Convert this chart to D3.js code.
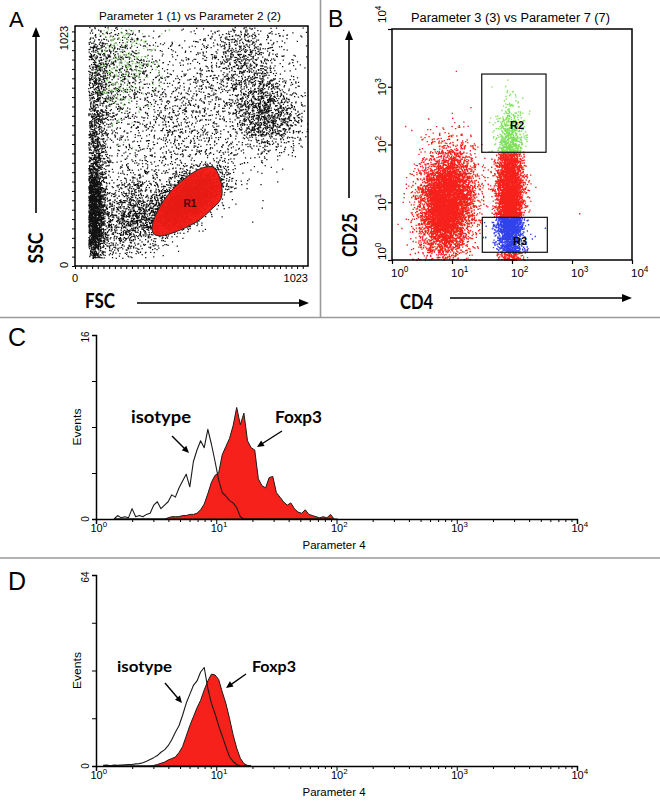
<!DOCTYPE html>
<html><head><meta charset="utf-8">
<script src="https://cdn.jsdelivr.net/npm/d3@7"></script>
<style>body{margin:0;background:#fff}svg{display:block}</style>
</head><body>
<svg id="fig" width="660" height="808"></svg>
<script>
// ================= DATA =================
// Panel A: FSC vs SSC (linear channels 0-1023), event populations
const aPopFSC   = [80, 88, 235, 190, 215, 845, 740, 470, 455, 505];
const aPopSSC   = [230, 640, 210, 830, 860, 660, 900, 600, 275, 285];
const aPopSdFSC = [25, 32, 75, 95, 75, 75, 85, 220, 100, 68];
const aPopSdSSC = [120, 190, 90, 130, 110, 85, 95, 220, 75, 58];
const aPopRho   = [0, 0, 0.3, 0, 0, -0.2, 0, 0.45, 0.7, 0.6];
const aPopCount = [2600, 1200, 1000, 800, 320, 1250, 650, 1900, 1500, 2000];
const aPopGreen = [false, false, false, false, true, false, false, false, false, false];
const aFscMin = 58, aSscMin = 35;
const aTicks = ["0", "1023"];
// R1 gate polygon (FSC, SSC)
const r1GateFSC = [338, 365, 420, 483, 530, 565, 606, 637, 645, 630, 606, 549, 461, 373, 345];
const r1GateSSC = [166, 240, 318, 374, 405, 420, 422, 372, 300, 270, 248, 198, 153, 128, 138];

// Panel B: CD4 (x) vs CD25 (y), log decades
const bPopLogCD4  = [0.9, 1.955, 1.97, 1.3];
const bPopLogCD25 = [1.0, 1.0, 2.15, 1.4];
const bPopSdCD4   = [0.22, 0.11, 0.12, 0.55];
const bPopSdCD25  = [0.45, 0.6, 0.3, 0.6];
const bPopRho     = [0.1, 0, 0, 0];
const bPopCount   = [6500, 5500, 330, 90];
const bGateNames  = ["R2", "R3"];
const bGateCD4Lo  = [31.3, 32];
const bGateCD4Hi  = [369, 388];
const bGateCD25Lo = [73.3, 1.36];
const bGateCD25Hi = [1660, 5.48];
const decadeExps  = [0, 1, 2, 3, 4];

// Panel C histogram (Parameter 4, Events 0-16), bins every 0.03 decade from 10^0.15
const cIsotype = [0,0.3,0.1,0.2,0.1,0.9,0.2,0.3,0.2,0.4,0.5,1.2,1.5,0.9,1.2,1.5,2.1,1.9,2.7,3.3,3.9,2.8,5.0,6.0,6.8,6.2,7.8,6.5,5.0,3.4,2.3,2.0,1.6,1.4,1.0,0.2,0,
  0,0,0,0,0,0,0,0,0,0,0,0,0,0,0,0,0,0,0,0,0,0,0,0,0,0];
const cFoxp3 = [0,0,0,0,0,0,0,0,0,0,0,0,0,0,
  0,0.1,0.2,0.2,0.2,0.3,0.3,0.4,0.4,0.5,0.8,1.3,2.2,3.2,3.8,4.0,5.6,6.3,7.0,8.1,9.7,8.2,9.2,6.8,6.2,6.0,3.5,2.9,2.7,3.6,3.7,2.3,1.9,1.5,1.2,1.4,0.9,0.6,0.5,0.8,0.4,0.3,0.2,0.1,0.2,0.1,0.4,0];
const cYTicks = [0, 4, 8, 12, 16];

// Panel D histogram (Parameter 4, Events 0-64), bins every 0.03 decade from 10^0.06
const dIsotype = [0.2,0.3,0.1,0.3,0.2,0.3,0.4,0.5,0.5,0.7,0.8,1.1,1.6,2.2,2.8,3.5,4.6,5.4,6.8,8.8,11.3,13.5,17.0,21.0,24.0,27.0,28.5,31.5,33.0,26.0,21.0,17.5,13.5,10.0,6.5,3.1,1.5,0.5,0,0,0,0];
const dFoxp3 = [0,0,0,0,0,0,0,0,0,0,0,0,0,0,
  0.2,0.5,0.9,1.3,2.0,2.5,3.0,4.5,6.5,10.0,13.5,16.5,19.5,22.0,25.5,28.5,30.8,30.5,29.0,24.8,21.0,16.0,10.5,6.0,2.6,0.8,0.2,0];
const dYTicks = [0, 16, 32, 48, 64];

// ================= HELPERS =================
const svg = d3.select("#fig");
const ARIAL = "'Liberation Sans', Arial, sans-serif";
const CAL = "Lato, 'Open Sans', sans-serif";
const RED = "#f5211a", GREEN = "#7fe05c", BLUE = "#3142ea";

function mulberry32(a){return function(){a|=0;a=a+0x6D2B79F5|0;let t=Math.imul(a^a>>>15,1|a);t=t+Math.imul(t^t>>>7,61|t)^t;return((t^t>>>14)>>>0)/4294967296;};}
function gauss(r){let u=0;while(u===0)u=r();const v=r();return Math.sqrt(-2*Math.log(u))*Math.cos(2*Math.PI*v);}
function population(cx,cy,sx,sy,rho,n,r){const out=[];const k=Math.sqrt(1-rho*rho);
  for(let i=0;i<n;i++){const z1=gauss(r),z2=gauss(r);out.push([cx+sx*z1, cy+sy*(rho*z1+k*z2)]);}return out;}
function dotsPath(pts,fx,fy,s){return pts.map(p=>`M${fx(p[0]).toFixed(1)},${fy(p[1]).toFixed(1)}h${s}v${s}h${-s}z`).join("");}

function txt(g,x,y,s,o={}){
  const t=g.append("text").attr("x",x).attr("y",y).text(s)
   .attr("font-family",o.family||ARIAL).attr("font-size",o.size||11)
   .attr("font-weight",o.weight||"normal").attr("text-anchor",o.anchor||"start").attr("fill","#000");
  if(o.len){t.attr("textLength",o.len).attr("lengthAdjust","spacingAndGlyphs");}
  return t;
}
function rtxt(g,x,y,s,o={}){
  const t=g.append("text").attr("transform",`translate(${x},${y}) rotate(-90)`).text(s)
   .attr("font-family",o.family||ARIAL).attr("font-size",o.size||11)
   .attr("font-weight",o.weight||"normal").attr("text-anchor",o.anchor||"middle").attr("fill","#000");
  if(o.len){t.attr("textLength",o.len).attr("lengthAdjust","spacingAndGlyphs");}
  return t;
}
function powLabel(t,e,size){
  t.append("tspan").text("10");
  t.append("tspan").attr("dy",-size*0.42).attr("font-size",size*0.72).text(e);
}
function arrow(g,x1,y1,x2,y2,len,hw,sw){
  const dx=x2-x1,dy=y2-y1,d=Math.hypot(dx,dy),ux=dx/d,uy=dy/d;
  const bx=x2-ux*len,by=y2-uy*len;
  g.append("line").attr("x1",x1).attr("y1",y1).attr("x2",bx+ux).attr("y2",by+uy).attr("stroke","#000").attr("stroke-width",sw);
  g.append("path").attr("d",`M${x2},${y2}L${bx-uy*hw},${by+ux*hw}L${bx+uy*hw},${by-ux*hw}Z`).attr("fill","#000");
}

// ================= DIVIDERS =================
svg.append("line").attr("x1",320.5).attr("x2",320.5).attr("y1",0).attr("y2",317).attr("stroke","#9a9a9a").attr("stroke-width",1.6);
svg.append("line").attr("x1",0).attr("x2",660).attr("y1",317.5).attr("y2",317.5).attr("stroke","#9a9a9a").attr("stroke-width",1.6);
svg.append("line").attr("x1",0).attr("x2",660).attr("y1",558).attr("y2",558).attr("stroke","#9a9a9a").attr("stroke-width",1.6);

// ================= PANEL A =================
{
  const g = svg.append("g");
  const x = d3.scaleLinear().domain([0,1023]).range([75,308]);
  const y = d3.scaleLinear().domain([0,1023]).range([266,26]);
  const rng = mulberry32(12345);
  const gate = r1GateFSC.map((v,i)=>[v, r1GateSSC[i]]);
  const black=[], green=[], red=[];
  aPopFSC.forEach((cx,i)=>{
    population(cx,aPopSSC[i],aPopSdFSC[i],aPopSdSSC[i],aPopRho[i],aPopCount[i],rng).forEach(p=>{
      if(p[0]<aFscMin||p[0]>1020||p[1]<aSscMin||p[1]>1020) return;
      if(d3.polygonContains(gate,p)) red.push(p);
      else if(aPopGreen[i]) green.push(p); else black.push(p);
    });
  });
  g.append("path").attr("d",dotsPath(black,x,y,1.25)).attr("fill","#111");
  g.append("path").attr("d",dotsPath(green,x,y,1.25)).attr("fill","#86d96e");
  const line = d3.line().x(d=>x(d[0])).y(d=>y(d[1])).curve(d3.curveCatmullRomClosed.alpha(0.5));
  g.append("path").attr("d",line(gate)).attr("fill",RED).attr("stroke","none");
  g.append("path").attr("d",dotsPath(red,x,y,1.1)).attr("fill","#d8140f").attr("opacity",0.55);
  g.append("path").attr("d",line(gate)).attr("fill","none").attr("stroke","#222").attr("stroke-width",1);
  txt(g,x(505),y(250),"R1",{size:10,weight:"bold",anchor:"middle"}).attr("fill","#3a0a08");
  // frame + ticks
  g.append("rect").attr("x",75).attr("y",26).attr("width",233).attr("height",240).attr("fill","none").attr("stroke","#000").attr("stroke-width",1.5);
  const ax = g.append("g").attr("transform","translate(0,266)")
    .call(d3.axisBottom(x).tickValues(d3.range(0,1024,25)).tickSize(3).tickFormat(""));
  const ay = g.append("g").attr("transform","translate(75,0)")
    .call(d3.axisLeft(y).tickValues(d3.range(0,1024,40)).tickSize(3).tickFormat(""));
  [ax,ay].forEach(a=>{a.select(".domain").remove();a.selectAll("line").attr("stroke-width",1);});
  txt(g,x(0),282,aTicks[0],{size:11,anchor:"middle"});
  txt(g,308,282,aTicks[1],{size:11,anchor:"end"});
  rtxt(g,68,38,aTicks[1],{size:11});
  rtxt(g,68,265,aTicks[0],{size:11});
  txt(g,190,20,"Parameter 1 (1) vs Parameter 2 (2)",{size:11,anchor:"middle",len:182});
  txt(g,9,27,"A",{size:22});
  rtxt(g,43,248,"SSC",{size:20,weight:"bold",family:CAL,len:31});
  txt(g,85,308,"FSC",{size:20,weight:"bold",family:CAL,len:30});
  arrow(g,36,213,36,27,10,4,1.6);
  arrow(g,137,303,309,303,10,4,1.6);
}

// ================= PANEL B =================
{
  const g = svg.append("g");
  const x = d3.scaleLog().domain([1,1e4]).range([392,632]);
  const y = d3.scaleLog().domain([1,1e4]).range([260,29]);
  const rng = mulberry32(777);
  const reds=[], greens=[], blues=[];
  bPopLogCD4.forEach((cx,i)=>{
    population(cx,bPopLogCD25[i],bPopSdCD4[i],bPopSdCD25[i],bPopRho[i],bPopCount[i],rng).forEach(p=>{
      if(p[0]<0||p[0]>3.98||p[1]<0.005||p[1]>3.98) return;
      const v=[10**p[0],10**p[1]];
      const gi = bGateNames.findIndex((n,k)=>v[0]>=bGateCD4Lo[k]&&v[0]<=bGateCD4Hi[k]&&v[1]>=bGateCD25Lo[k]&&v[1]<=bGateCD25Hi[k]);
      if(gi===0) greens.push(v); else if(gi===1) blues.push(v); else reds.push(v);
    });
  });
  g.append("path").attr("d",dotsPath(reds,x,y,1.35)).attr("fill",RED);
  g.append("path").attr("d",dotsPath(greens,x,y,1.35)).attr("fill",GREEN);
  g.append("path").attr("d",dotsPath(blues,x,y,1.35)).attr("fill",BLUE);
  bGateNames.forEach((n,k)=>{
    g.append("rect").attr("x",x(bGateCD4Lo[k])).attr("y",y(bGateCD25Hi[k]))
      .attr("width",x(bGateCD4Hi[k])-x(bGateCD4Lo[k])).attr("height",y(bGateCD25Lo[k])-y(bGateCD25Hi[k]))
      .attr("fill","none").attr("stroke","#111").attr("stroke-width",1.2);
  });
  txt(g,517,129,"R2",{size:11,weight:"bold",anchor:"middle"});
  txt(g,520,245,"R3",{size:11,weight:"bold",anchor:"middle"});
  g.append("rect").attr("x",392).attr("y",29).attr("width",240).attr("height",231).attr("fill","none").attr("stroke","#000").attr("stroke-width",1.5);
  const ticks = decadeExps.map(e=>10**e);
  const ax = g.append("g").attr("transform","translate(0,260)").call(d3.axisBottom(x).tickValues(ticks).tickSize(4).tickFormat(""));
  const ay = g.append("g").attr("transform","translate(392,0)").call(d3.axisLeft(y).tickValues(ticks).tickSize(4).tickFormat(""));
  [ax,ay].forEach(a=>{a.select(".domain").remove();a.selectAll("line").attr("stroke-width",1.2);});
  decadeExps.forEach((e,i)=>{
    const t = txt(g,x(10**e)-1,277,"",{size:11.5});
    powLabel(t,String(e),11.5);
    const last = i===decadeExps.length-1;
    const anchor = (i===0||last)?"start":"middle";
    const yy = last? y(10**e)-6 : y(10**e);
    const r = rtxt(g,386,yy,"",{size:11.5,anchor});
    powLabel(r,String(e),11.5);
  });
  txt(g,510.5,22,"Parameter 3 (3) vs Parameter 7 (7)",{size:12,anchor:"middle",len:199});
  txt(g,328,27,"B",{size:23});
  rtxt(g,357,235,"CD25",{size:21,weight:"bold",family:CAL,len:44});
  txt(g,400,309,"CD4",{size:21,weight:"bold",family:CAL,len:33});
  arrow(g,349,198,349,30,10,4,1.6);
  arrow(g,450,298,632,298,10,4,1.6);
}

// ================= HISTOGRAMS =================
function histogram(cfg){
  const g = svg.append("g");
  const x = d3.scaleLog().domain([1,1e4]).range([96,577]);
  const y = d3.scaleLinear().domain([0,cfg.yMax]).range([cfg.base,cfg.top]);
  const binsF = cfg.foxp3.map((v,i)=>({l:cfg.start+0.03*i, v}));
  const binsI = cfg.isotype.map((v,i)=>({l:cfg.start+0.03*i, v}));
  const area = d3.area().x(d=>x(10**d.l)).y0(y(0)).y1(d=>y(d.v));
  const line = d3.line().x(d=>x(10**d.l)).y(d=>y(d.v));
  g.append("path").attr("d",area(binsF)).attr("fill",RED).attr("stroke","#1a1a1a").attr("stroke-width",1).attr("stroke-linejoin","round");
  g.append("path").attr("d",line(binsI)).attr("fill","none").attr("stroke","#1a1a1a").attr("stroke-width",1.1).attr("stroke-linejoin","round");
  // axes
  const major = decadeExps.map(e=>10**e);
  const minor = [];
  decadeExps.slice(0,4).forEach(e=>{for(let m=2;m<=9;m++)minor.push(m*10**e);});
  const axM = g.append("g").attr("transform",`translate(0,${cfg.base})`).call(d3.axisBottom(x).tickValues(major).tickSize(5).tickFormat(""));
  const axm = g.append("g").attr("transform",`translate(0,${cfg.base})`).call(d3.axisBottom(x).tickValues(minor).tickSize(3).tickFormat(""));
  axm.select(".domain").remove();
  axM.select(".domain").attr("stroke-width",1.5);
  [axM,axm].forEach(a=>a.selectAll("line").attr("stroke-width",1));
  const ay = g.append("g").attr("transform","translate(96,0)").call(d3.axisLeft(y).tickValues(cfg.yTicks).tickSize(4).tickFormat(""));
  ay.select(".domain").attr("stroke-width",1.5);
  ay.selectAll("line").attr("stroke-width",1);
  decadeExps.forEach(e=>{
    const t = txt(g,x(10**e)-5.5,cfg.base+13,"",{size:11});
    powLabel(t,String(e),11);
  });
  rtxt(g,89,cfg.top+2,String(cfg.yMax),{size:10});
  rtxt(g,89,cfg.base,"0",{size:10});
  rtxt(g,80.5,(cfg.top+cfg.base)/2,"Events",{size:11,len:37});
  txt(g,334,cfg.base+30,"Parameter 4",{size:11,anchor:"middle",len:63});
  txt(g,8,cfg.letterY,cfg.letter,{size:25});
  txt(g,cfg.isoX,cfg.labY,"isotype",{size:cfg.isoSize,weight:"bold",family:CAL,len:cfg.isoLen});
  txt(g,cfg.foxX,cfg.labY,"Foxp3",{size:cfg.isoSize,weight:"bold",family:CAL,len:cfg.foxLen});
  arrow(g,...cfg.isoArrow,7,3.2,1.4);
  arrow(g,...cfg.foxArrow,7,3.2,1.4);
}
histogram({letter:"C",letterY:346,start:0.15,foxp3:cFoxp3,isotype:cIsotype,yMax:16,yTicks:cYTicks,
  base:519,top:335,isoX:131,foxX:275,labY:423,isoSize:17,isoLen:60,foxLen:47,
  isoArrow:[172,436,189,453],foxArrow:[282,431,257,447]});
histogram({letter:"D",letterY:590,start:0.06,foxp3:dFoxp3,isotype:dIsotype,yMax:64,yTicks:dYTicks,
  base:766,top:575,isoX:117,foxX:252,labY:672,isoSize:16,isoLen:55,foxLen:44,
  isoArrow:[165,683,182,703],foxArrow:[246,674,226,688]});
</script>
</body></html>
